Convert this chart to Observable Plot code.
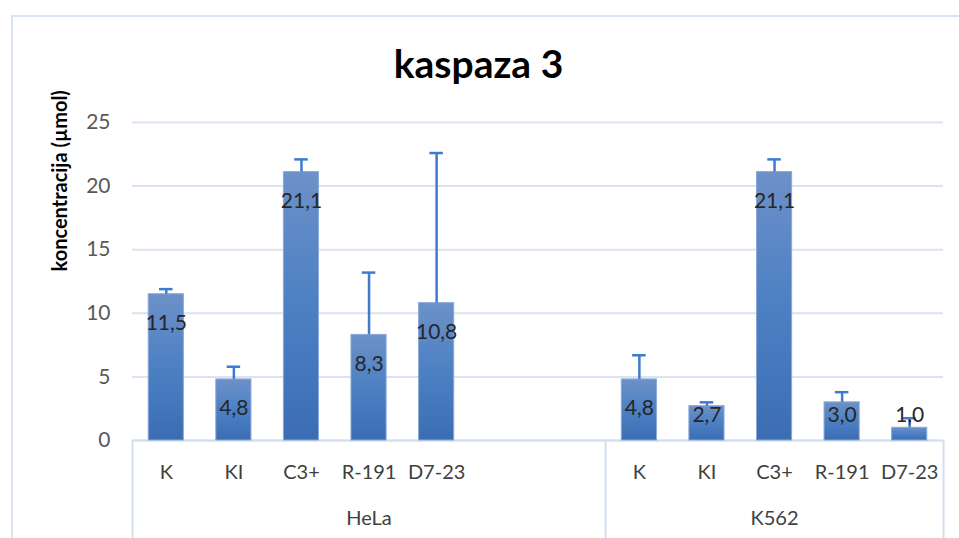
<!DOCTYPE html>
<html>
<head>
<meta charset="utf-8">
<script src="https://cdn.jsdelivr.net/npm/d3@7"></script>
<script src="https://cdn.jsdelivr.net/npm/@observablehq/plot@0.6"></script>
<style>
  html, body { margin: 0; padding: 0; background: #fff; }
  #wrap { position: relative; width: 959px; height: 538px; overflow: hidden; font-family: Lato, "Open Sans", sans-serif; }
  #frame { position: absolute; left: 11px; top: 15px; width: 1000px; height: 600px; border-left: 2px solid #d9e3f3; border-top: 2px solid #d9e3f3; box-sizing: border-box; }
  #title { position: absolute; left: 0; top: 39px; width: 957px; height: 48px; line-height: 48px; text-align: center; font-weight: bold; font-size: 39px; color: #000; }
  #chart { position: absolute; left: 0; top: 0; }
</style>
</head>
<body>
<div id="wrap">
  <div id="frame"></div>
  <div id="chart"></div>
  <div id="title">kaspaza 3</div>
</div>
<script>
const titleText = "kaspaza 3";
const yLabel = "koncentracija (µmol)";
const groups = ["HeLa", "K562"];
const helaCategories = ["K", "KI", "C3+", "R-191", "D7-23", "", ""];
const k562Categories = ["K", "KI", "C3+", "R-191", "D7-23"];
const helaValues = [11.5, 4.8, 21.1, 8.3, 10.8, null, null];
const helaErrors = [0.4, 1.0, 1.0, 4.9, 11.8, null, null];
const k562Values = [4.8, 2.7, 21.1, 3.0, 1.0];
const k562Errors = [1.9, 0.3, 1.0, 0.8, 0.75];
const yTicks = [0, 5, 10, 15, 20, 25];

// build table
const groupCats = [helaCategories, k562Categories];
const groupVals = [helaValues, k562Values];
const groupErrs = [helaErrors, k562Errors];
const rows = [];
const groupInfo = [];
let idx = 0;
groupCats.forEach((cats, g) => {
  const start = idx;
  cats.forEach((c, j) => {
    rows.push({i: idx, group: groups[g], cat: c, v: groupVals[g][j], e: groupErrs[g][j]});
    idx++;
  });
  groupInfo.push({group: groups[g], start, end: idx - 1, mid: (start + idx - 1) / 2});
});
const n = idx;
const bars = rows.filter(d => d.v != null);
const boundaries = [-0.5, ...groupInfo.map(g => g.end + 0.5)];
const fmt = v => d3.format(".1f")(v).replace(".", ",");

const plot = Plot.plot({
  width: 959,
  height: 538,
  marginTop: 122,
  marginBottom: 98,
  marginLeft: 132,
  marginRight: 16,
  style: {fontFamily: "Lato, 'Open Sans', sans-serif", background: "transparent", overflow: "visible"},
  x: {type: "linear", domain: [-0.5, n - 0.5], axis: null},
  y: {domain: [0, 25], axis: null},
  marks: [
    Plot.gridY(yTicks, {stroke: "#d9e3f3", strokeOpacity: 1, strokeWidth: 2}),
    Plot.ruleY([0], {stroke: "#d3dff0", strokeWidth: 2}),
    Plot.ruleX(boundaries, {y1: 0, y2: -8, stroke: "#d3dff0", strokeWidth: 2}),
    Plot.axisY({ticks: yTicks, tickSize: 0, tickPadding: 22, fontSize: 21, color: "#595959", label: null}),
    Plot.text([yLabel], {frameAnchor: "left", dx: -72, dy: -10, rotate: -90, fontSize: 20, fontWeight: "bold", fill: "#000"}),
    Plot.rectY(bars, {x1: d => d.i - 0.26, x2: d => d.i + 0.26, y1: 0, y2: "v", fill: "url(#barGrad)", stroke: "#8aa9d8", strokeWidth: 1}),
    Plot.ruleX(bars, {x: "i", y1: "v", y2: d => d.v + d.e, stroke: "#3e7bd0", strokeWidth: 2.5}),
    Plot.ruleY(bars, {y: d => d.v + d.e, x1: d => d.i - 0.1, x2: d => d.i + 0.1, stroke: "#3e7bd0", strokeWidth: 2.5}),
    Plot.text(bars, {x: "i", y: d => Math.max(d.v - 2.28, 1.97), text: d => fmt(d.v), fontSize: 21, fill: "#262626"}),
    Plot.text(rows.filter(d => d.cat !== ""), {x: "i", y: 0, dy: 32, text: "cat", fontSize: 20, fill: "#404040"}),
    Plot.text(groupInfo, {x: "mid", y: 0, dy: 78, text: "group", fontSize: 20, fill: "#404040"})
  ]
});

// gradient definition
const defs = document.createElementNS("http://www.w3.org/2000/svg", "defs");
defs.innerHTML = `<linearGradient id="barGrad" x1="0" y1="0" x2="0" y2="1">
  <stop offset="0%" stop-color="#6d91c9"/>
  <stop offset="50%" stop-color="#4c80c3"/>
  <stop offset="100%" stop-color="#3c6db3"/>
</linearGradient>`;
plot.insertBefore(defs, plot.firstChild);
document.getElementById("chart").appendChild(plot);
document.getElementById("title").textContent = titleText;
</script>
</body>
</html>
